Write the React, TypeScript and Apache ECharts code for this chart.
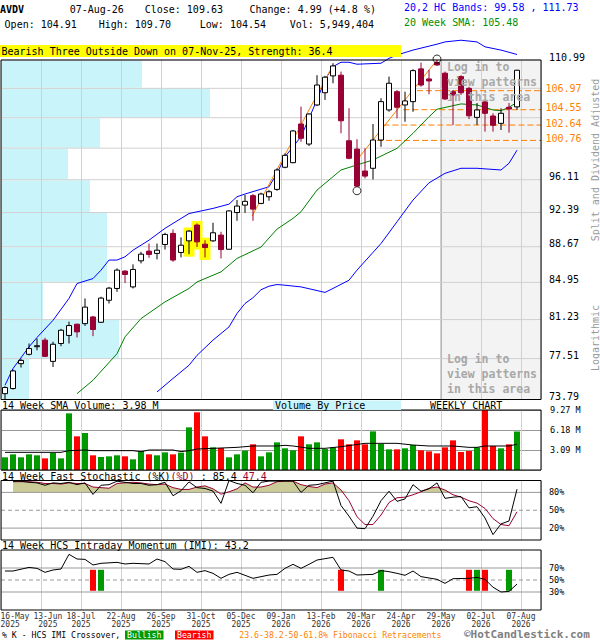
import React, { useEffect, useRef } from "react";
import * as echarts from "echarts";

const FONT = '"DejaVu Sans Mono", "Liberation Mono", monospace';
const DOWN = "#990033";
const VOL_UP = "#009900";
const VOL_DOWN = "#ff0000";
const ORANGE = "#ff7f00";
const GRID_LIGHT = "#d0d0d0";

// ---------- weekly bars (16-May-2025 .. 07-Aug-2026) ----------
const opens = [74.31, 74.77, 77.04, 77.91, 78.68, 79.25, 77.25, 78.93, 79.70, 80.78,
  80.84, 81.49, 80.97, 83.14, 84.33, 86.11, 84.49, 87.18, 88.20, 87.96,
  88.91, 90.10, 88.06, 89.30, 91.01, 88.94, 89.30, 89.92, 88.40, 92.39,
  93.22, 94.28, 93.41, 94.16, 95.00, 97.56, 98.10, 102.77, 100.32, 105.15,
  106.71, 108.89, 108.98, 100.72, 99.71, 97.12, 97.44, 100.81, 104.52, 106.84,
  105.15, 105.57, 109.81, 108.49, 110.64, 109.24, 106.84, 108.80, 107.27, 103.59,
  105.53, 103.76, 102.85, 104.86, 104.91];
const highs = [74.98, 76.50, 77.50, 78.93, 79.41, 79.47, 79.10, 80.33, 81.03, 80.84,
  83.33, 81.59, 83.49, 84.49, 86.39, 86.21, 86.81, 88.12, 89.01, 89.01,
  90.17, 90.54, 89.67, 90.46, 91.19, 89.37, 91.26, 90.28, 92.65, 93.79,
  94.36, 94.47, 94.62, 94.92, 97.44, 99.21, 102.03, 104.94, 104.10, 108.98,
  108.89, 110.56, 109.45, 104.73, 100.90, 99.80, 102.77, 106.00, 108.80, 107.06,
  106.84, 109.77, 110.64, 109.68, 110.99, 109.45, 107.06, 108.98, 107.48, 105.40,
  105.73, 104.10, 104.73, 105.40, 109.70];
const lows = [73.79, 74.67, 76.68, 77.81, 78.29, 77.65, 76.73, 78.67, 78.93, 79.50,
  80.61, 79.63, 80.90, 82.82, 83.99, 84.89, 84.33, 86.91, 87.50, 87.33,
  88.37, 87.08, 87.54, 87.88, 88.64, 87.54, 89.19, 87.43, 88.37, 91.48,
  92.35, 91.48, 93.33, 93.71, 94.84, 97.44, 98.03, 100.60, 100.08, 105.02,
  105.79, 107.93, 101.63, 98.50, 95.30, 96.26, 96.14, 99.99, 104.30, 103.47,
  103.05, 104.30, 107.48, 106.51, 110.20, 105.79, 102.65, 106.42, 103.38, 102.65,
  101.83, 101.83, 102.03, 101.71, 104.54];
const closes = [74.86, 76.37, 77.34, 78.45, 78.72, 77.72, 78.86, 80.20, 80.65, 80.04,
  82.46, 80.27, 83.36, 84.36, 86.21, 85.76, 86.28, 87.88, 87.85, 88.30,
  89.99, 87.26, 88.83, 90.35, 89.19, 88.58, 90.17, 88.37, 92.57, 93.11,
  93.64, 92.77, 94.47, 94.73, 97.24, 98.97, 101.91, 101.02, 104.01, 107.70,
  108.72, 110.20, 103.17, 98.62, 95.38, 96.53, 100.81, 105.57, 107.93, 104.86,
  105.66, 109.58, 107.70, 108.23, 110.33, 105.91, 106.42, 106.71, 103.79, 104.52,
  104.10, 102.61, 104.10, 104.64, 109.63];
// weekly volume, millions of shares
const volumes = [1.96, 2.42, 1.96, 2.42, 2.27, 1.80, 2.63, 1.80, 8.75, 5.20,
  5.72, 2.27, 2.01, 2.11, 2.27, 2.11, 1.65, 2.94, 2.42, 2.27,
  2.73, 2.42, 2.68, 6.59, 8.91, 5.20, 3.50, 3.40, 1.96, 2.42,
  2.99, 3.97, 2.11, 2.73, 4.27, 3.35, 3.04, 5.20, 3.97, 4.27,
  3.24, 3.50, 4.74, 3.97, 4.58, 3.97, 5.97, 4.02, 3.19, 3.19,
  3.35, 3.86, 3.04, 2.88, 2.57, 3.50, 4.58, 2.78, 2.94, 3.50,
  9.27, 3.71, 3.35, 3.97, 5.95];

const volSmaBars = [0, 7, 8, 10, 11, 16, 17, 18, 21, 22, 23, 24, 29, 31, 34, 35, 36, 38, 40, 42, 45, 49, 51, 53, 56, 58, 59, 60, 63, 64];
const volSmaValues = [2.73, 2.73, 2.99, 3.09, 2.99, 2.99, 2.83, 3.09, 3.09, 2.83, 2.99, 3.24, 3.50, 3.71, 3.71, 3.81, 3.71, 3.35, 3.35, 3.60, 4.12, 4.12, 3.86, 3.71, 3.71, 3.50, 3.50, 3.71, 3.71, 3.98];

const upperBandBars = [0, 1, 3, 4, 6, 8, 9, 11, 12, 13, 14, 15, 16, 18, 20, 21, 23, 26, 28, 29, 30, 33, 34, 35, 37, 39, 40, 41, 42, 43, 44, 47, 48, 49, 51, 54, 55, 57, 59, 60, 62, 64];
const upperBandValues = [75.07, 76.59, 78.61, 79.50, 81.16, 83.33, 84.83, 85.34, 86.21, 87.26, 87.26, 87.60, 88.30, 89.37, 90.65, 91.19, 92.28, 92.85, 93.33, 94.16, 94.47, 95.30, 96.85, 98.80, 101.21, 105.79, 108.36, 110.11, 110.69, 110.69, 110.43, 110.56, 111.21, 111.66, 112.32, 113.12, 113.43, 113.66, 113.43, 112.76, 112.32, 111.73];
const lowerBandBars = [19, 21, 23, 24, 26, 28, 29, 30, 31, 32, 33, 34, 35, 37, 40, 41, 43, 44, 47, 49, 51, 53, 55, 57, 59, 62, 63, 64];
const lowerBandValues = [74.46, 75.68, 76.89, 77.81, 79.25, 80.52, 81.83, 82.82, 83.40, 84.20, 84.56, 84.73, 84.66, 84.49, 83.93, 84.33, 85.17, 86.21, 89.01, 91.37, 93.79, 95.75, 96.85, 97.44, 97.44, 97.24, 98.03, 99.58];
const smaBars = [9, 11, 14, 15, 17, 20, 23, 24, 27, 29, 32, 34, 36, 37, 39, 42, 44, 46, 49, 51, 53, 54, 57, 59, 61, 62, 63, 64];
const smaValues = [74.31, 75.52, 77.97, 79.56, 81.33, 82.98, 84.33, 84.99, 86.03, 87.43, 88.64, 90.57, 91.74, 92.48, 94.92, 97.24, 97.83, 98.42, 99.80, 101.63, 103.67, 104.61, 105.28, 105.15, 104.52, 104.43, 104.86, 105.48];

// trend lines (bar, price)
const trend1Bars = [30.9, 41.0];
const trend1Prices = [92.02, 110.3];
const trend2Bars = [44, 54];
const trend2Prices = [98.42, 110.99];

// fibonacci retracement levels and where they start
const fibLevels = [106.97, 104.55, 102.64, 100.76];
const fibStartBars = [51.5, 49.8, 47.3, 46.5];

// price grid (logarithmic scale)
const priceTicks = [73.79, 77.51, 81.23, 84.95, 88.67, 92.39, 96.11, 99.83, 103.55, 107.27, 110.99];
const priceTickLabels = ["73.79", "77.51", "81.23", "84.95", "88.67", "92.39", "96.11", "", "", "", "110.99"];
// volume by price, relative volume per price band (bottom to top)
const vbpVolumes = [28, 118, 42, 106, 106, 89, 67, 99, 209, 141];

const highlightBars = [23, 24, 25];
const swingLowBar = 44;
const swingHighBar = 54;
const loginStartBar = 54.5;

// 14-week fast stochastic
const stochStart = 1;
const stochK = [98.8, 98.8, 97, 96, 92, 96, 95, 97, 93, 96,
  76.6, 92, 93, 98.8, 97, 95, 95, 92, 93, 97,
  74.4, 82.7, 97.7, 88, 86.6, 82.2, 61.6, 100, 95, 92,
  79.4, 97, 99, 99, 99, 99, 80, 92, 93, 96,
  99, 58, 40, 20, 19, 40, 66, 82, 65, 69,
  93, 82, 86, 96, 70, 72, 73, 54, 56, 37,
  9, 27, 32, 85.4];
const stochD = [98, 98, 98, 97, 95, 95, 94, 96, 95, 95,
  89, 88, 87, 95, 96, 97, 96, 94, 93, 94,
  88, 85, 85, 89, 91, 86, 77, 81, 86, 96,
  89, 89, 92, 98, 99, 99, 93, 90, 88, 94,
  96, 84, 66, 39, 26, 26, 42, 63, 71, 72,
  76, 81, 87, 89, 84, 76, 72, 66, 62, 53,
  36, 26, 24, 47.4];
const stochLevels = [80, 50, 20];

// 14-week HCS intraday momentum
const imiBars = [0, 1, 3, 4, 5, 6, 7, 8, 9, 10, 11, 12, 14, 15, 16, 18, 19, 20, 21, 22, 23, 24, 25, 26, 27, 28, 29, 31, 33, 34, 35, 36, 37, 38, 39, 41, 42, 43, 44, 46, 47, 48, 49, 50, 51, 52, 54, 55, 56, 58, 59, 60, 61, 62, 63, 64];
const imiValues = [65, 65, 71, 69.4, 62.8, 66.7, 68.3, 92.8, 85, 84.4, 75, 77.8, 79.4, 76.7, 77.8, 76.7, 85, 80.6, 68.3, 67.8, 72.8, 62.8, 65.6, 61.1, 52.8, 59.4, 62.8, 52.8, 58.3, 59.4, 69.4, 76.1, 69.4, 76.1, 83.3, 87.8, 66.7, 65, 58.3, 59.4, 65.6, 63.9, 61.1, 57.8, 65, 55.6, 51.1, 44.4, 52.2, 52.8, 54.4, 51, 38, 30, 31, 43.2];
const imiLevels = [70, 50, 30];
const bullishBars = [12, 47, 59, 63];
const bearishBars = [11, 42, 58, 60];

const volTicks = [0, 3.09, 6.18, 9.27];

const tickBars = [0, 4, 9, 14, 19, 24, 29, 34, 39, 44, 49, 54, 59, 64];
const tickLabels = ["16-May\n2025", "13-Jun\n2025", "18-Jul\n2025", "22-Aug\n2025", "26-Sep\n2025", "31-Oct\n2025", "05-Dec\n2025",
  "09-Jan\n2026", "13-Feb\n2026", "20-Mar\n2026", "24-Apr\n2026", "29-May\n2026", "02-Jul\n2026", "07-Aug\n2026"];

// ---------- helpers ----------
const X_MAX = 67.5;
const vx = (b: number) => b + 0.5;
const pairs = (bars: number[], vals: number[]) => bars.map((b, i) => [vx(b), vals[i]]);

const T = (x: number, y: number, text: string, o: any = {}) => ({
  type: "text",
  x,
  y,
  silent: true,
  z: 100,
  rotation: o.rotation || 0,
  style: {
    text,
    fill: o.color || "#000",
    fontSize: o.size || 10,
    fontFamily: FONT,
    fontWeight: o.bold ? "bold" : "normal",
    align: o.align || "left",
    textAlign: o.align || "left",
    verticalAlign: "middle",
    textVerticalAlign: "middle",
  },
});
const R = (x: number, y: number, w: number, h: number, fill: string) => ({
  type: "rect",
  silent: true,
  z: 99,
  shape: { x, y, width: w, height: h },
  style: { fill },
});

function buildOption(): any {
  const priceMin = priceTicks[0];
  const priceMax = priceTicks[priceTicks.length - 1];
  const gridBase = { left: 1, width: 540, show: true, borderColor: "#000", borderWidth: 1, backgroundColor: "transparent", z: 10 };
  const xAx = (gi: number) => ({
    gridIndex: gi, type: "value", min: 0, max: X_MAX, interval: 5, z: 2,
    axisLabel: { show: false }, axisTick: { show: false }, axisLine: { show: false },
    splitLine: { show: true, lineStyle: { color: GRID_LIGHT, width: 1 } },
  });

  const levelSeries = (gridIdx: number, levels: number[], fmt: (v: number) => string) => ({
    type: "custom", xAxisIndex: gridIdx, yAxisIndex: gridIdx, z: 3, silent: true,
    data: levels.map((l, i) => [i, l]),
    renderItem: (params: any, api: any) => {
      const lv = api.value(1);
      const a = api.coord([0, lv]);
      const b = api.coord([X_MAX, lv]);
      return {
        type: "group", children: [
          { type: "line", shape: { x1: a[0], y1: a[1], x2: b[0], y2: b[1] }, style: { stroke: "#999", lineWidth: 1, lineDash: lv === 50 ? [4, 3] : null } },
          { type: "text", x: b[0] + 8, y: a[1], style: { text: fmt(lv), fill: "#000", fontSize: 8.5, fontFamily: FONT, align: "left", verticalAlign: "middle" } },
        ],
      };
    },
  });

  const series: any[] = [
    // volume by price
    {
      type: "custom", xAxisIndex: 4, yAxisIndex: 0, z: 1, silent: true,
      data: vbpVolumes.map((vol, i) => [vol, priceTicks[i], priceTicks[i + 1]]),
      renderItem: (params: any, api: any) => {
        const a = api.coord([0, api.value(2)]);
        const b = api.coord([api.value(0), api.value(1)]);
        return { type: "rect", shape: { x: a[0], y: a[1] + 0.5, width: b[0] - a[0], height: b[1] - a[1] - 1 }, style: { fill: "#c8f4fa" } };
      },
    },
    // login (hidden patterns) area
    {
      type: "custom", xAxisIndex: 0, yAxisIndex: 0, z: 1, silent: true,
      data: [[vx(loginStartBar), priceMax]],
      renderItem: (params: any, api: any) => {
        const a = api.coord([api.value(0), priceMax]);
        const b = api.coord([X_MAX, priceMin]);
        return { type: "rect", shape: { x: a[0], y: a[1], width: b[0] - a[0], height: b[1] - a[1] }, style: { fill: "#f3f3f3" } };
      },
    },
    // price grid lines + labels + login divider
    {
      type: "custom", xAxisIndex: 0, yAxisIndex: 0, z: 3, silent: true,
      data: priceTicks.map((p, i) => [i, p]),
      renderItem: (params: any, api: any) => {
        const i = params.dataIndex;
        const p = api.value(1);
        const a = api.coord([0, p]);
        const b = api.coord([X_MAX, p]);
        const children: any[] = [
          { type: "line", shape: { x1: a[0], y1: a[1], x2: b[0], y2: b[1] }, style: { stroke: GRID_LIGHT, lineWidth: 1 } },
        ];
        if (priceTickLabels[i]) {
          children.push({ type: "text", x: b[0] + 8, y: a[1] - 3, style: { text: priceTickLabels[i], fill: "#000", fontSize: 10, fontFamily: FONT, align: "left", verticalAlign: "middle" } });
        }
        if (i === 0) {
          const t = api.coord([vx(loginStartBar), priceMax]);
          children.push({ type: "line", shape: { x1: t[0], y1: t[1], x2: t[0], y2: a[1] }, style: { stroke: "#a0a0a0", lineWidth: 1 } });
        }
        return { type: "group", children };
      },
    },
    // fibonacci retracement lines
    {
      type: "custom", xAxisIndex: 0, yAxisIndex: 0, z: 3, silent: true,
      data: fibLevels.map((p, i) => [vx(fibStartBars[i]), p]),
      renderItem: (params: any, api: any) => {
        const p = api.value(1);
        const a = api.coord([api.value(0), p]);
        const b = api.coord([X_MAX, p]);
        return {
          type: "group", children: [
            { type: "line", shape: { x1: a[0], y1: a[1], x2: b[0], y2: b[1] }, style: { stroke: ORANGE, lineWidth: 1, lineDash: [6, 3] } },
            { type: "text", x: b[0] + 4.5, y: a[1] - 2, style: { text: p.toFixed(2), fill: ORANGE, fontSize: 10, fontFamily: FONT, align: "left", verticalAlign: "middle" } },
          ],
        };
      },
    },
    // bands and SMA
    { type: "line", xAxisIndex: 0, yAxisIndex: 0, z: 4, clip: false, symbol: "none", silent: true, data: pairs(upperBandBars, upperBandValues), lineStyle: { color: "#0000ff", width: 1 } },
    { type: "line", xAxisIndex: 0, yAxisIndex: 0, z: 4, symbol: "none", silent: true, data: pairs(lowerBandBars, lowerBandValues), lineStyle: { color: "#0000ff", width: 1 } },
    { type: "line", xAxisIndex: 0, yAxisIndex: 0, z: 4, symbol: "none", silent: true, data: pairs(smaBars, smaValues), lineStyle: { color: "#008000", width: 1 } },
    { type: "line", xAxisIndex: 0, yAxisIndex: 0, z: 4, symbol: "none", silent: true, data: pairs(trend1Bars, trend1Prices), lineStyle: { color: ORANGE, width: 1 } },
    { type: "line", xAxisIndex: 0, yAxisIndex: 0, z: 4, symbol: "none", silent: true, data: pairs(trend2Bars, trend2Prices), lineStyle: { color: ORANGE, width: 1 } },
    // pattern highlight
    {
      type: "custom", xAxisIndex: 0, yAxisIndex: 0, z: 4, silent: true,
      data: highlightBars.map((b) => [vx(b), highs[b], lows[b]]),
      renderItem: (params: any, api: any) => {
        const a = api.coord([api.value(0), api.value(1)]);
        const b = api.coord([api.value(0), api.value(2)]);
        return { type: "rect", shape: { x: a[0] - 5.5, y: a[1] - 2.5, width: 11, height: b[1] - a[1] + 5 }, style: { fill: "#ffff00" } };
      },
    },
    // candles
    {
      type: "custom", xAxisIndex: 0, yAxisIndex: 0, z: 5, silent: true,
      data: opens.map((o, i) => [vx(i), o, closes[i], lows[i], highs[i]]),
      renderItem: (params: any, api: any) => {
        const x = api.value(0), o = api.value(1), c = api.value(2), l = api.value(3), h = api.value(4);
        const pO = api.coord([x, o]);
        const yC = api.coord([x, c])[1];
        const yL = api.coord([x, l])[1];
        const yH = api.coord([x, h])[1];
        const up = c >= o;
        const col = up ? "#000" : DOWN;
        const top = Math.min(pO[1], yC);
        const bh = Math.max(Math.abs(pO[1] - yC), 1);
        const cx = pO[0];
        return {
          type: "group", children: [
            { type: "line", shape: { x1: cx, y1: yH, x2: cx, y2: yL }, style: { stroke: col, lineWidth: 1 } },
            { type: "rect", shape: { x: cx - 2.5, y: top, width: 5, height: bh }, style: { fill: up ? "#fff" : DOWN, stroke: col, lineWidth: 1 } },
          ],
        };
      },
    },
    // swing markers
    {
      type: "scatter", xAxisIndex: 0, yAxisIndex: 0, z: 6, clip: false, silent: true, symbol: "circle", symbolSize: 8,
      itemStyle: { color: "rgba(0,0,0,0)", borderColor: "#000", borderWidth: 1 },
      data: [
        { value: [vx(swingLowBar), lows[swingLowBar]], symbolOffset: [0, 4] },
        { value: [vx(swingHighBar), highs[swingHighBar]], symbolOffset: [0, -1] },
      ],
    },
    // volume
    {
      type: "bar", xAxisIndex: 1, yAxisIndex: 1, z: 4, barWidth: 6, silent: true,
      data: volumes.map((v, i) => ({ value: [vx(i), v], itemStyle: { color: closes[i] >= opens[i] ? VOL_UP : VOL_DOWN } })),
    },
    { type: "line", xAxisIndex: 1, yAxisIndex: 1, z: 5, symbol: "none", silent: true, data: pairs(volSmaBars, volSmaValues), lineStyle: { color: "#000", width: 1 } },
    // stochastic fill above 80
    {
      type: "custom", xAxisIndex: 2, yAxisIndex: 2, z: 3, silent: true,
      data: [[vx(stochStart), 80]],
      renderItem: (params: any, api: any) => {
        const pts = stochD.map((d, i) => api.coord([vx(i + stochStart), Math.max(d, 80)]));
        pts.push(api.coord([vx(stochStart + stochD.length - 1), 80]));
        pts.push(api.coord([vx(stochStart), 80]));
        return { type: "polygon", shape: { points: pts }, style: { fill: "#cccc99" } };
      },
    },
    levelSeries(2, stochLevels, (v) => v + "%"),
    { type: "line", xAxisIndex: 2, yAxisIndex: 2, z: 4, symbol: "none", silent: true, data: stochD.map((d, i) => [vx(i + stochStart), d]), lineStyle: { color: DOWN, width: 1 } },
    { type: "line", xAxisIndex: 2, yAxisIndex: 2, z: 5, symbol: "none", silent: true, data: stochK.map((k, i) => [vx(i + stochStart), k]), lineStyle: { color: "#000", width: 1 } },
    // IMI
    levelSeries(3, imiLevels, (v) => v + "%"),
    {
      type: "custom", xAxisIndex: 3, yAxisIndex: 3, z: 4, silent: true,
      data: [...bearishBars.map((b) => [vx(b), 0]), ...bullishBars.map((b) => [vx(b), 1])],
      renderItem: (params: any, api: any) => {
        const a = api.coord([api.value(0), 67]);
        const b = api.coord([api.value(0), 32]);
        return { type: "rect", shape: { x: a[0] - 3, y: a[1], width: 6, height: b[1] - a[1] }, style: { fill: api.value(1) === 1 ? VOL_UP : VOL_DOWN } };
      },
    },
    { type: "line", xAxisIndex: 3, yAxisIndex: 3, z: 5, symbol: "none", silent: true, data: pairs(imiBars, imiValues), lineStyle: { color: "#000", width: 1 } },
    // date labels
    {
      type: "custom", xAxisIndex: 3, yAxisIndex: 3, z: 5, silent: true,
      data: tickBars.map((b, i) => [i, 0]),
      renderItem: (params: any, api: any) => {
        const i = params.dataIndex;
        const fs = 8;
        const charW = fs * 0.602;
        const w = (s: string) => s.split("\n")[0].length * charW;
        const base = api.coord([0, 0]);
        let x: number;
        let align = "center";
        if (i === 0) {
          x = base[0] - 0.5;
          align = "left";
        } else {
          x = api.coord([tickBars[i] + 1, 0])[0];
          if (i === 1) {
            const prevRight = base[0] - 0.5 + w(tickLabels[0]);
            x = Math.max(x, prevRight + 4 + w(tickLabels[1]) / 2);
          }
        }
        return { type: "text", x, y: base[1] + 1.8, style: { text: tickLabels[i], fill: "#333", fontSize: fs, fontFamily: FONT, align, verticalAlign: "top", lineHeight: 8.5 } };
      },
    },
  ];

  const graphic: any[] = [
    T(0, 9.5, "AVDV", { bold: true }),
    T(69.7, 9.5, "07-Aug-26"),
    T(144.7, 9.5, "Close: 109.63"),
    T(249.5, 9.5, "Change: 4.99 (+4.8 %)"),
    T(4.6, 24, "Open: 104.91"),
    T(98.7, 24, "High: 109.70"),
    T(199.8, 24, "Low: 104.54"),
    T(289.7, 24, "Vol: 5,949,404"),
    T(404, 7, "20,2 HC Bands: 99.58 , 111.73", { color: "#0000ff" }),
    T(404, 22.5, "20 Week SMA: 105.48", { color: "#009000" }),
    R(0, 45, 401, 12, "#ffff00"),
    T(1.5, 51, "Bearish Three Outside Down on 07-Nov-25, Strength: 36.4"),
    T(447, 67, "Log in to", { color: "#a8a8a8", bold: true, size: 11.5 }),
    T(447, 82, "view patterns", { color: "#a8a8a8", bold: true, size: 11.5 }),
    T(447, 97, "in this area", { color: "#a8a8a8", bold: true, size: 11.5 }),
    T(447, 359, "Log in to", { color: "#a8a8a8", bold: true, size: 11.5 }),
    T(447, 374, "view patterns", { color: "#a8a8a8", bold: true, size: 11.5 }),
    T(447, 389, "in this area", { color: "#a8a8a8", bold: true, size: 11.5 }),
    T(595, 160, "Split and Dividend Adjusted", { color: "#999", align: "center", rotation: Math.PI / 2 }),
    T(595, 338, "Logarithmic", { color: "#999", align: "center", rotation: Math.PI / 2 }),
    T(2, 405, "14 Week SMA Volume: 3.98 M"),
    R(273, 400.5, 128, 9.5, "#c8f4fa"),
    T(275, 405, "Volume By Price"),
    T(430, 405, "WEEKLY CHART"),
    T(2, 476, "14 Week Fast Stochastic (%K)"),
    T(2 + 28 * 6.02, 476, "(%D)", { color: DOWN }),
    T(2 + 32 * 6.02, 476, " : 85.4"),
    T(2 + 40 * 6.02, 476, "47.4", { color: DOWN }),
    T(2, 545, "14 Week HCS Intraday Momentum (IMI): 43.2"),
    T(2, 635, "% K - HCS IMI Crossover,", { size: 8.2 }),
    R(125, 630.5, 38.5, 9, VOL_UP),
    T(144.2, 635, "Bullish", { size: 8.2, color: "#fff", align: "center" }),
    R(175, 630.5, 38.5, 9, VOL_DOWN),
    T(194.2, 635, "Bearish", { size: 8.2, color: "#fff", align: "center" }),
    T(239.3, 635, "23.6-38.2-50-61.8% Fibonacci Retracements", { size: 8.2, color: ORANGE }),
    T(464, 634.5, "\u00a9HotCandlestick.com", { size: 11, bold: true, color: "#808080" }),
  ];

  return {
    animation: false,
    backgroundColor: "#fff",
    textStyle: { fontFamily: FONT },
    grid: [
      { ...gridBase, top: 60, height: 339.5 },
      { ...gridBase, top: 410, height: 60 },
      { ...gridBase, top: 480.5, height: 59.5 },
      { ...gridBase, top: 550, height: 60 },
    ],
    xAxis: [xAx(0), xAx(1), xAx(2), xAx(3), { gridIndex: 0, type: "value", min: 0, max: 540, show: false, position: "top" }],
    yAxis: [
      { gridIndex: 0, type: "log", logBase: 10, min: priceMin, max: priceMax, show: false },
      {
        gridIndex: 1, type: "value", min: volTicks[0], max: volTicks[3], interval: volTicks[1], position: "right", z: 2,
        axisLine: { show: false }, axisTick: { show: false },
        splitLine: { show: true, lineStyle: { color: "#999", width: 1 } },
        axisLabel: { show: true, margin: 9, fontSize: 8.5, fontFamily: FONT, color: "#000", padding: [3, 0, 0, 0], formatter: (v: number) => (v < 0.01 ? "" : v.toFixed(2) + " M") },
      },
      { gridIndex: 2, type: "value", min: 0, max: 100, show: false },
      { gridIndex: 3, type: "value", min: 0, max: 100, show: false },
    ],
    series,
    graphic,
  };
}

export default function App() {
  const ref = useRef<HTMLDivElement>(null);
  useEffect(() => {
    document.body.style.margin = "0";
    const chart = echarts.init(ref.current as HTMLDivElement, null, { renderer: "svg" });
    chart.setOption(buildOption());
    return () => chart.dispose();
  }, []);
  return <div ref={ref} style={{ width: 600, height: 640 }} />;
}
